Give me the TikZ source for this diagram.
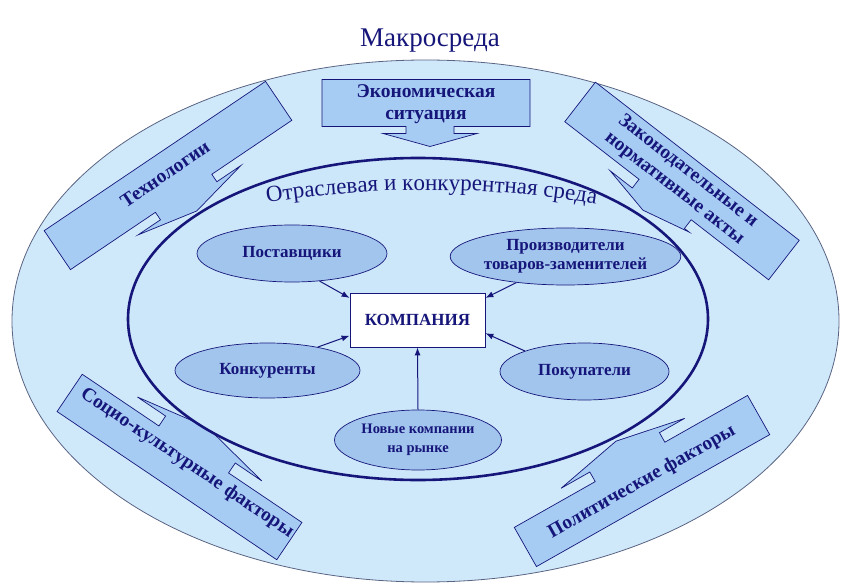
\documentclass[tikz,border=0pt]{standalone}
\usepackage{fontspec}
\setmainfont{Liberation Serif}
\usetikzlibrary{shapes.geometric,arrows.meta,decorations.text}
\definecolor{navy}{HTML}{16167A}
\definecolor{outerfill}{HTML}{CFE9FB}
\definecolor{innerfill}{HTML}{CCE7FA}
\definecolor{outerline}{HTML}{5A6482}
\definecolor{calfill}{HTML}{A6CCF4}
\definecolor{ovfill}{HTML}{A2C5EE}
\tikzset{
  callbox/.style={fill=calfill, draw=navy, line width=0.7pt, line join=miter},
  ctext/.style={text=navy, font=\bfseries\fontsize{19.5}{22}\selectfont, inner sep=0pt, align=center},
  oval/.style={ellipse, draw=navy, line width=0.7pt, fill=ovfill, inner sep=0pt, text=navy,
               font=\bfseries\fontsize{17}{19}\selectfont, align=center},
  conn/.style={draw=navy, line width=1pt, -{Latex[length=8pt,width=6pt]}},
}
% callout: [transform]W/H/shaftcentre/shafthalf/headcentre/headhalf/L1/L2;
\def\callout[#1]#2/#3/#4/#5/#6/#7/#8/#9;{%
  \path[callbox,#1] ({-#2/2},{-#3/2}) -- ({#2/2},{-#3/2}) -- ({#2/2},{#3/2})
   -- ({#4+#5},{#3/2}) -- ({#4+#5},{#3/2+#8}) -- ({#6+#7},{#3/2+#8})
   -- ({#6},{#3/2+#8+#9}) -- ({#6-#7},{#3/2+#8}) -- ({#4-#5},{#3/2+#8})
   -- ({#4-#5},{#3/2}) -- ({-#2/2},{#3/2}) -- cycle;}
\begin{document}
\begin{tikzpicture}[x=1pt,y=-1pt]
\useasboundingbox (0,0) rectangle (851,588);
% title
\node[text=navy, font=\fontsize{27}{29}\selectfont, inner sep=0pt] (title) at (430,41) {Макросреда};
% outer ellipse (macro environment)
\path[fill=outerfill, draw=outerline, line width=0.8pt] (425.5,321) ellipse [x radius=413.5, y radius=261];
% callouts
\callout[shift={(426,103)}]208/47/4/24/4/47/7/13;
\callout[shift={(168,175.5)},rotate=34]267/47/3/34/4/62/9/13;
\callout[shift={(682,181)},rotate=-37.8]258/50/-2/33/-13/50/11/11;
\callout[shift={(179.5,467)},rotate=-34,yscale=-1]265/45/2/42/1/75/12/14;
\callout[shift={(642,481)},rotate=29.5,yscale=-1]268/45/-1/40/-3/71/11/14;
\node[ctext] (econ) at (426,104) {Экономическая\\ситуация};
\node[ctext, rotate=34] (tech) at (165,174) {Технологии};
\node[ctext, rotate=-37.8] (laws) at (681,180) {Законодательные и\\нормативные акты};
\node[ctext, rotate=-34] (soc) at (187,463) {Социо-культурные факторы};
\node[ctext, rotate=29.5] (pol) at (642,482) {Политические факторы};
% inner ellipse (industry environment)
\path[fill=innerfill, draw=navy, line width=2.6pt] (418,319) ellipse [x radius=290, y radius=161];
\path[decorate, decoration={text along path, text align=center,
   text={|\fontsize{23}{23}\selectfont\color{navy}|Отраслевая и конкурентная среда}}]
   (428,1230) ++(260.2:1040) arc[start angle=260.2, end angle=280.2, radius=1040];
% company and forces
\node[draw=navy, line width=0.8pt, fill=white, minimum width=135pt, minimum height=54pt, inner sep=0pt,
      text=navy, font=\bfseries\fontsize{17}{19}\selectfont] (comp) at (417.5,320) {КОМПАНИЯ};
\node[oval, minimum width=190pt, minimum height=57pt] (post) at (292,253.5) {Поставщики};
\node[oval, minimum width=179pt, minimum height=57pt] (prod) at (565.5,256.5) {Производители\\товаров-заменителей};
\node[oval, minimum width=185pt, minimum height=55pt] (konk) at (267.5,370.5) {Конкуренты};
\node[oval, minimum width=169pt, minimum height=57pt] (pok) at (584.5,371.5) {Покупатели};
\node[oval, minimum width=167pt, minimum height=60pt, font=\bfseries\fontsize{14.5}{19}\selectfont] (nov) at (418,440) {Новые компании\\на рынке};
\draw[conn] (post.-45) -- (comp.162);
\draw[conn] (prod.208) -- (comp.18);
\draw[conn] (konk.25) -- (comp.193);
\draw[conn] (pok.161) -- (comp.349);
\draw[conn] (nov.north) -- (comp.south);
\end{tikzpicture}
\end{document}
